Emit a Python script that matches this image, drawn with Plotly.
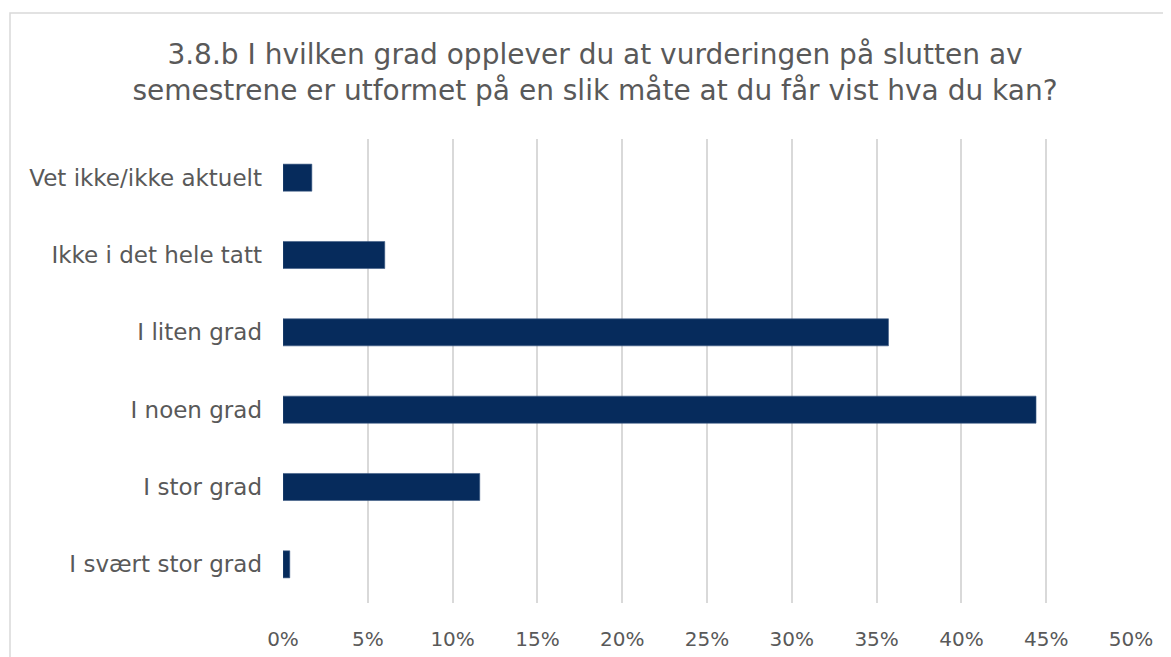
import plotly.graph_objects as go

categories = ["Vet ikke/ikke aktuelt", "Ikke i det hele tatt", "I liten grad",
              "I noen grad", "I stor grad", "I svært stor grad"]
values = [0.017, 0.060, 0.357, 0.444, 0.116, 0.004]
x_ticks = [0, 0.05, 0.10, 0.15, 0.20, 0.25, 0.30, 0.35, 0.40, 0.45, 0.50]
x_tick_labels = ["0%", "5%", "10%", "15%", "20%", "25%", "30%", "35%", "40%", "45%", "50%"]
title_text = ("3.8.b I hvilken grad opplever du at vurderingen på slutten av<br>"
              "semestrene er utformet på en slik måte at du får vist hva du kan?")

OFF = 8  # page body margin
W, H = 1171 - OFF, 657 - OFF
L = 283 - OFF
R = W - (1131 - OFF)
T = 139 - OFF
B = H - (603 - OFF)
pw, ph = W - L - R, H - T - B

FONT = "DejaVu Sans"
TXT = "#595959"

fig = go.Figure(go.Bar(
    y=categories, x=values, orientation="h",
    marker=dict(color="#062B5C", line=dict(color="#3D5A85", width=0.6)),
    width=0.35,
))

fig.update_layout(
    width=W, height=H,
    margin=dict(l=L, r=R, t=T, b=B, autoexpand=False),
    paper_bgcolor="white", plot_bgcolor="white",
    showlegend=False,
    font=dict(family=FONT, color=TXT),
    title=dict(text=title_text, xref="container", x=(595 - OFF) / W, xanchor="center",
               yref="container", y=1 - (64 - OFF) / H, yanchor="top",
               font=dict(family=FONT, size=28, color=TXT)),
    xaxis=dict(range=[0, 0.5], tickvals=x_ticks, ticktext=x_tick_labels,
               showgrid=True, gridcolor="#D9D9D9", gridwidth=1.5,
               zeroline=False, showline=False, ticks="", automargin=False,
               ticklabelstandoff=22,
               tickfont=dict(family=FONT, size=20, color=TXT)),
    yaxis=dict(autorange="reversed", showgrid=False, zeroline=False,
               showline=False, ticks="", ticklabelstandoff=20, automargin=False,
               tickfont=dict(family=FONT, size=23, color=TXT)),
    shapes=[dict(type="rect", xref="paper", yref="paper",
                 x0=(10 - 283) / pw, x1=(1185 - 283) / pw,
                 y0=(603 - 680) / ph, y1=(603 - 13) / ph,
                 line=dict(color="#D9D9D9", width=1.5), fillcolor="rgba(0,0,0,0)",
                 layer="below")],
)

fig.write_html("out.html")
